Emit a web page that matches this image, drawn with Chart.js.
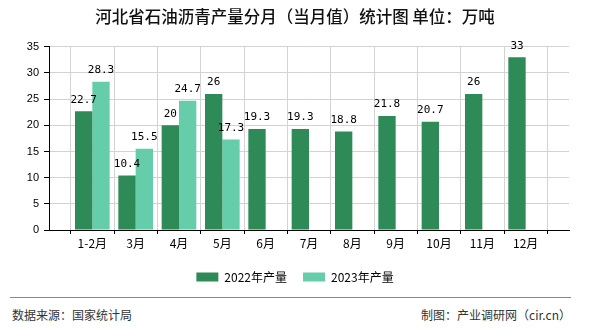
<!DOCTYPE html>
<html>
<head>
<meta charset="utf-8">
<script src="https://cdn.jsdelivr.net/npm/chart.js@4.4.0/dist/chart.umd.min.js"></script>
<style>
    body { margin: 0; background: #fff; }
    #wrap { position: relative; width: 590px; height: 330px; font-family: 'Noto Sans CJK SC', sans-serif; }
    #box { position: absolute; left: 0; top: 0; width: 590px; height: 293px; }
    #rule { position: absolute; left: 10px; top: 297px; width: 561px; height: 0; border-top: 1px solid #888; }
    .src { position: absolute; top: 307px; font-size: 12px; line-height: 16px; color: #333; }
</style>
</head>
<body>
<div id="wrap">
    <div id="box"><canvas id="myChart"></canvas></div>
    <div id="rule"></div>
    <div class="src" style="left:12px">数据来源：国家统计局</div>
    <div class="src" style="right:19px">制图：产业调研网（cir.cn）</div>
</div>
<script>
const months = ['1-2月', '3月', '4月', '5月', '6月', '7月', '8月', '9月', '10月', '11月', '12月'];
const output2022 = [22.7, 10.4, 20, 26, 19.3, 19.3, 18.8, 21.8, 20.7, 26, 33];
const output2023 = [28.3, 15.5, 24.7, 17.3, null, null, null, null, null, null, null];
const yMax = 35;
const yStep = 5;

// the reference leaves one empty slot on each side of the months
const labels = ['', ...months, ''];
const pad = (arr) => [null, ...arr, null];

Chart.defaults.font.family = "'Liberation Sans', 'Noto Sans CJK SC', sans-serif";
Chart.defaults.color = '#000';

const valueLabels = {
    id: 'valueLabels',
    afterDatasetsDraw(chart) {
        const ctx = chart.ctx;
        ctx.save();
        ctx.font = '11px "DejaVu Sans Mono", monospace';
        ctx.fillStyle = '#000';
        ctx.textAlign = 'center';
        ctx.textBaseline = 'bottom';
        chart.data.datasets.forEach((dataset, i) => {
            chart.getDatasetMeta(i).data.forEach((bar, j) => {
                const v = dataset.data[j];
                if (v === null || v === undefined) return;
                ctx.fillText(String(v), bar.x, bar.y - 6);
            });
        });
        ctx.restore();
    }
};

const ctx = document.getElementById('myChart');

const myBarChart = new Chart(ctx, {
    type: 'bar',
    data: {
        labels: labels,
        datasets: [{
            label: '2022年产量',
            data: pad(output2022),
            backgroundColor: '#2E8B57',
            borderWidth: 0
        },
        {
            label: '2023年产量',
            data: pad(output2023),
            backgroundColor: '#66CDAA',
            borderWidth: 0
        }]
    },
    options: {
        responsive: true,
        maintainAspectRatio: false,
        animation: false,
        categoryPercentage: 0.8,
        barPercentage: 1,
        layout: {
            padding: { left: 21, right: 21, top: 0, bottom: 0 }
        },
        plugins: {
            title: {
                display: true,
                text: '河北省石油沥青产量分月（当月值）统计图 单位：万吨',
                color: '#111',
                font: { family: "'Noto Sans CJK SC', sans-serif", size: 16.5, weight: 500 },
                padding: { top: 7, bottom: 20 }
            },
            legend: {
                position: 'bottom',
                labels: {
                    boxWidth: 22,
                    boxHeight: 9,
                    padding: 16,
                    color: '#000',
                    font: { family: "'Noto Sans CJK SC', sans-serif", size: 12 }
                }
            },
            tooltip: { enabled: false }
        },
        scales: {
            x: {
                offset: false,
                grid: { color: '#d3d3d3', tickColor: '#000', tickLength: 4 },
                border: { color: '#000' },
                ticks: {
                    autoSkip: false,
                    maxRotation: 0,
                    padding: 2,
                    font: { family: "'Noto Sans CJK SC', sans-serif", size: 12 }
                },
                afterFit: (scale) => { scale.height = 25; }
            },
            y: {
                min: 0,
                max: yMax,
                ticks: {
                    stepSize: yStep,
                    padding: 5,
                    font: { size: 11 }
                },
                grid: { color: '#d3d3d3', tickColor: '#000', tickLength: 5 },
                border: { color: '#000' },
                afterFit: (scale) => { scale.width = 28; }
            }
        }
    },
    plugins: [valueLabels]
});
</script>
</body>
</html>
